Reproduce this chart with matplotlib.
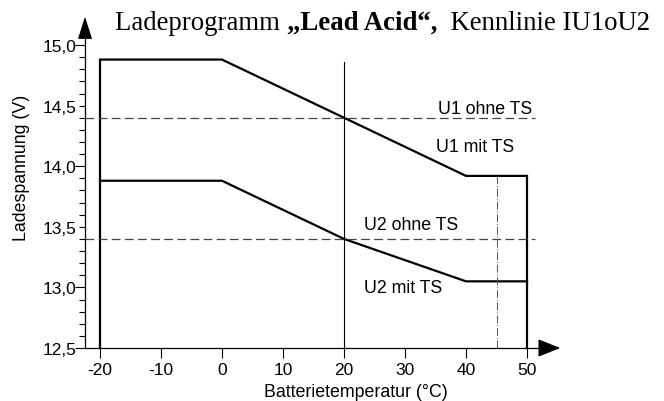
import matplotlib
matplotlib.use("Agg")
import matplotlib.pyplot as plt
from matplotlib.ticker import FixedLocator, FuncFormatter

# --- Daten ---
u1_temp = [-20, -20, 0, 20, 40, 50, 50]
u1_volt = [12.5, 14.88, 14.88, 14.40, 13.92, 13.92, 12.5]
u2_temp = [-20, 0, 20, 40, 50]
u2_volt = [13.88, 13.88, 13.40, 13.05, 13.05]
u1_ohne_ts = 14.4
u2_ohne_ts = 13.4
x_ticks = [-20, -10, 0, 10, 20, 30, 40, 50]
y_ticks = [12.5, 13.0, 13.5, 14.0, 14.5, 15.0]

plt.rcParams['font.family'] = ['Liberation Sans', 'DejaVu Sans']
plt.rcParams['axes.unicode_minus'] = False

fig = plt.figure(figsize=(6.64, 4.02), dpi=100)
ax = fig.add_axes([85 / 664, 53 / 402, 478 / 664, 334 / 402])
x_min, x_max = -22.46, 55.9
y_min, y_max = 12.5, 15.256
ax.set_xlim(x_min, x_max)
ax.set_ylim(y_min, y_max)

# Kennlinien
ax.plot(u1_temp, u1_volt, color='black', lw=1.6, solid_joinstyle='miter')
ax.plot(u2_temp, u2_volt, color='black', lw=1.6, solid_joinstyle='miter')

# Werte ohne Temperatursensor
ax.plot([x_min, 51.3], [u1_ohne_ts, u1_ohne_ts], color='#444444', lw=0.9,
        dashes=(7, 3.5))
ax.plot([x_min, 51.3], [u2_ohne_ts, u2_ohne_ts], color='#444444', lw=0.9,
        dashes=(7, 3.5))

# Hilfslinien
ax.plot([20, 20], [y_min, 14.86], color='black', lw=0.8)
ax.plot([45, 45], [y_min, u1_volt[4]], color='#555555', lw=0.7,
        dashes=(8, 2, 1, 2))

# Beschriftungen
fs = 12.8
ax.text(50.8, 14.48, "U1 ohne TS", ha='right', va='center', fontsize=fs)
ax.text(35.1, 14.16, "U1 mit TS", ha='left', va='center', fontsize=fs)
ax.text(23.3, 13.52, "U2 ohne TS", ha='left', va='center', fontsize=fs)
ax.text(23.3, 13.00, "U2 mit TS", ha='left', va='center', fontsize=fs)

# Achsen
for side in ['top', 'right']:
    ax.spines[side].set_visible(False)
ax.spines['left'].set_bounds(y_min, 15.12)
ax.spines['bottom'].set_bounds(x_min, 53.5)
ax.spines['left'].set_linewidth(0.9)
ax.spines['bottom'].set_linewidth(0.9)
ax.annotate('', xy=(x_min, y_max), xytext=(x_min, 15.11), xycoords='data',
            arrowprops=dict(arrowstyle='-|>,head_length=1.0,head_width=0.32',
                            color='black', lw=0.9, mutation_scale=14),
            annotation_clip=False)
ax.annotate('', xy=(x_max, y_min), xytext=(53.0, y_min), xycoords='data',
            arrowprops=dict(arrowstyle='-|>,head_length=1.0,head_width=0.4',
                            color='black', lw=0.9, mutation_scale=14),
            annotation_clip=False)

ax.xaxis.set_major_locator(FixedLocator(x_ticks))
ax.yaxis.set_major_locator(FixedLocator(y_ticks))
ax.yaxis.set_minor_locator(FixedLocator(
    [v / 10 for v in range(126, 151) if v % 5 != 0]))
ax.yaxis.set_major_formatter(FuncFormatter(lambda v, p: f"{v:.1f}".replace('.', ',')))
ax.tick_params(axis='x', direction='out', length=7, width=0.8, labelsize=12.5,
               pad=3)
ax.tick_params(axis='y', which='major', direction='out', length=4, width=0.8,
               labelsize=12.5, pad=2)
ax.tick_params(axis='y', which='minor', direction='out', length=4, width=0.8)
for tick, v in zip(ax.yaxis.get_major_ticks(), y_ticks):
    if v in (13.0, 14.0, 15.0, 12.5):
        tick.tick1line.set_markersize(7)

ax.set_xlabel("Batterietemperatur (°C)", fontsize=12.8)
ax.xaxis.set_label_coords((356 - 85) / 478, -(393 - 349) / 334)
ax.xaxis.label.set_va('center')
ax.set_ylabel("Ladespannung (V)", fontsize=12.8)
ax.yaxis.set_label_coords(-(85 - 22) / 478, (349 - 168) / 334)
ax.yaxis.label.set_va('center')

# Titel
serif = ['Liberation Serif', 'DejaVu Serif']
t1 = fig.text(115 / 664, 1 - 30 / 402, "Ladeprogramm ", family=serif,
              fontsize=19.3, va='baseline')
t2 = ax.annotate("„Lead Acid“,", xy=(1, 0), xycoords=t1, family=serif,
                 fontsize=19.3, fontweight='bold', va='bottom')
t3 = ax.annotate("  Kennlinie IU1oU2", xy=(1, 0), xycoords=t2, family=serif,
                 fontsize=19.3, va='bottom')

fig.savefig("out.png", dpi=100)
